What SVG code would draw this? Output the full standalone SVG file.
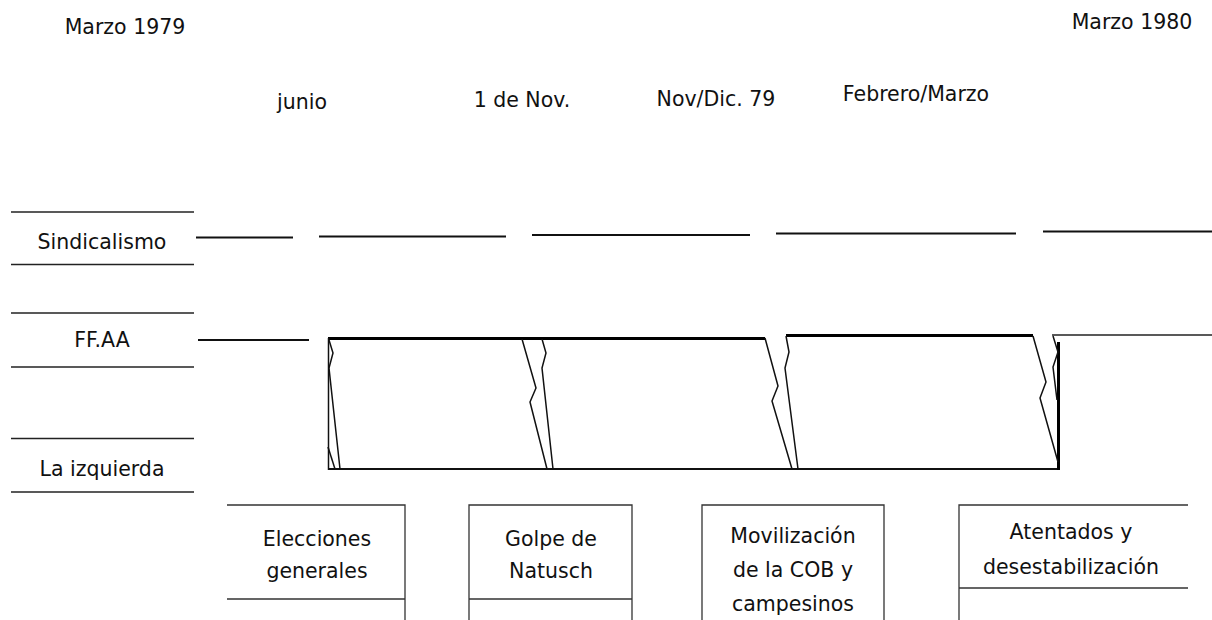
<svg xmlns="http://www.w3.org/2000/svg" width="1212" height="620" viewBox="0 0 1212 620">
<style>
text{font-family:"DejaVu Sans","Liberation Sans",sans-serif;font-size:20.5px;fill:#111;text-anchor:middle}
.rule{stroke:#222;stroke-width:1.5;fill:none}
.seg{stroke:#111;stroke-width:2.2;fill:none}
.thick{stroke:#000;stroke-width:3;fill:none}
.brk{stroke:#111;stroke-width:1.5;fill:none;stroke-linejoin:miter}
.box{stroke:#333;stroke-width:1.3;fill:none}
</style>
<rect width="1212" height="620" fill="#fff"/>
<g id="dates">
<text x="125" y="34">Marzo 1979</text>
<text x="1132" y="29">Marzo 1980</text>
<text x="302" y="109">junio</text>
<text x="522" y="107">1 de Nov.</text>
<text x="716" y="106">Nov/Dic. 79</text>
<text x="916" y="101">Febrero/Marzo</text>
</g>
<g id="row-sindicalismo">
<line class="rule" x1="11" y1="212" x2="194" y2="212"/>
<line class="rule" x1="11" y1="264.5" x2="194" y2="264.5"/>
<text x="102" y="249">Sindicalismo</text>
</g>
<g id="row-ffaa">
<line class="rule" x1="11" y1="313" x2="194" y2="313"/>
<line class="rule" x1="11" y1="367" x2="194" y2="367"/>
<text x="102" y="347">FF.AA</text>
</g>
<g id="row-izquierda">
<line class="rule" x1="11" y1="438.5" x2="194" y2="438.5"/>
<line class="rule" x1="11" y1="492" x2="194" y2="492"/>
<text x="102" y="476">La izquierda</text>
</g>
<g id="connectors">
<g id="sindicalismo-line">
<line class="seg" x1="196" y1="237.5" x2="293" y2="237.5"/>
<line class="seg" x1="319" y1="236.5" x2="506" y2="236.5"/>
<line class="seg" x1="532" y1="235" x2="750" y2="235"/>
<line class="seg" x1="776" y1="233.5" x2="1016" y2="233.5"/>
<line class="seg" x1="1043" y1="231.5" x2="1212" y2="231.5"/>
</g>
<g id="ffaa-band">
<line class="seg" x1="198" y1="340" x2="309" y2="340"/>
<line class="thick" x1="328" y1="338.5" x2="765" y2="338.5"/>
<line class="thick" x1="786" y1="335.5" x2="1033" y2="335.5"/>
<line class="rule" x1="1052" y1="335" x2="1212" y2="335"/>
<line class="brk" x1="328.5" y1="338" x2="328.5" y2="470"/>
<line class="seg" x1="328" y1="469" x2="1058" y2="469"/>
<line class="thick" x1="1058.5" y1="342" x2="1058.5" y2="470"/>
<path class="brk" d="M329,340 L333,353 L329,368 L340,469"/>
<path class="brk" d="M328,447 L335,469"/>
<path class="brk" d="M522,339 L536,388 L530,402 L547,469"/>
<path class="brk" d="M542,339 L546,353 L542,368 L553,469"/>
<path class="brk" d="M765,338 L778,386 L772,401 L792,469"/>
<path class="brk" d="M786,336 L789,352 L785,368 L798,469"/>
<path class="brk" d="M1033,336 L1046,382 L1040,398 L1058,462"/>
<path class="brk" d="M1053,336 L1058,352 L1053,367 L1057,400"/>
</g>
</g>
<g id="event-elecciones">
<path class="box" d="M227,505 H405 V620 M227,599 H405"/>
<text x="317" y="546">Elecciones</text>
<text x="317" y="578">generales</text>
</g>
<g id="event-golpe">
<path class="box" d="M469,620 V505 H632 V620 M469,599 H632"/>
<text x="551" y="546">Golpe de</text>
<text x="551" y="578">Natusch</text>
</g>
<g id="event-cob">
<path class="box" d="M702,620 V505 H884 V620"/>
<text x="793" y="543">Movilización</text>
<text x="793" y="577">de la COB y</text>
<text x="793" y="611">campesinos</text>
</g>
<g id="event-atentados">
<path class="box" d="M959,620 V505 H1188 M959,588 H1188"/>
<text x="1071" y="539">Atentados y</text>
<text x="1071" y="574">desestabilización</text>
</g>
</svg>
